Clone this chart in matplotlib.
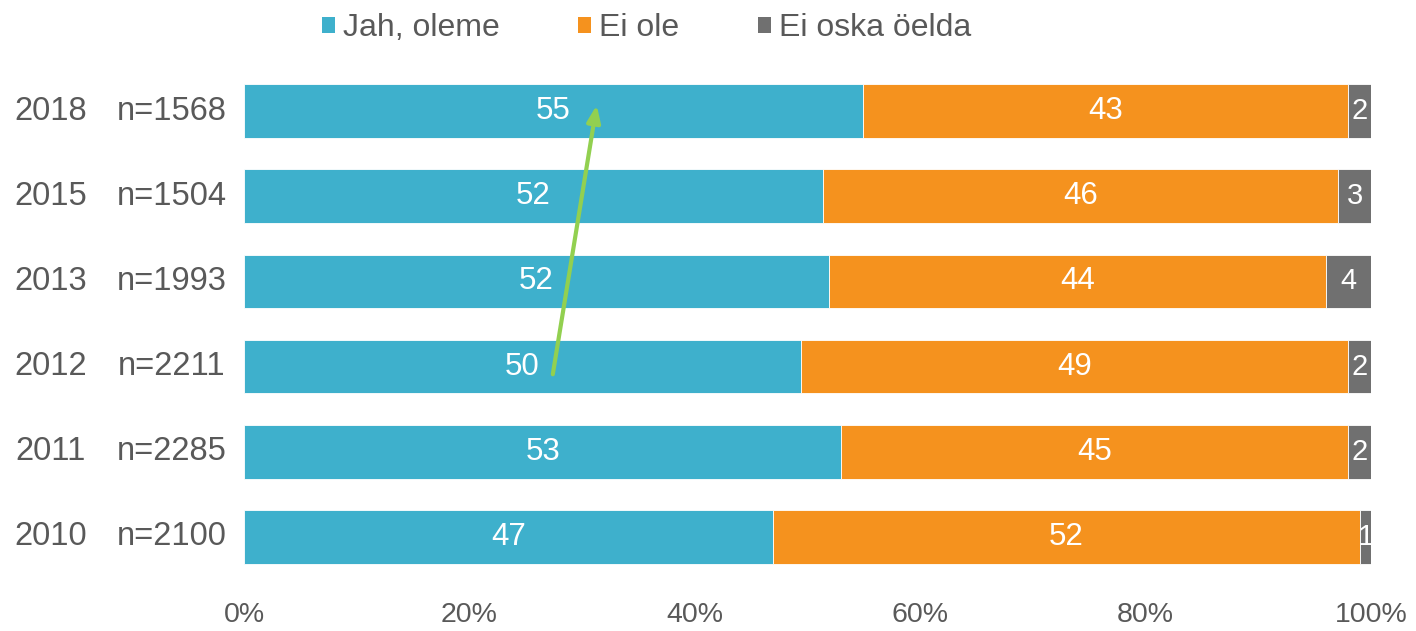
import matplotlib
matplotlib.use("Agg")
from matplotlib import pyplot as plt
from matplotlib.patches import Patch
import numpy as np

# data (bottom to top)
years = ["2010", "2011", "2012", "2013", "2015", "2018"]
sizes = ["n=2100", "n=2285", "n=2211", "n=1993", "n=1504", "n=1568"]
series_names = ["Jah, oleme", "Ei ole", "Ei oska öelda"]
jah = [46.9, 53.0, 49.4, 51.9, 51.4, 54.9]
ei = [52.1, 45.0, 48.6, 44.1, 45.7, 43.1]
ei_tea = [1.0, 2.0, 2.0, 4.0, 2.9, 2.0]
jah_lbl = [47, 53, 50, 52, 52, 55]
ei_lbl = [52, 45, 49, 44, 46, 43]
ei_tea_lbl = [1, 2, 2, 4, 3, 2]
xticks = [0, 20, 40, 60, 80, 100]

colors = ["#3EB0CC", "#F5921E", "#707070"]
txtcol = "#595959"
narrow = ["Liberation Sans Narrow", "Liberation Sans", "DejaVu Sans"]
wide = ["Liberation Sans", "DejaVu Sans"]

fig = plt.figure(figsize=(14.16, 6.31), dpi=100)
ax = fig.add_axes([244/1416, 0.0815, 1127/1416, 0.81])

y = np.arange(len(years))
vals = [jah, ei, ei_tea]
lbls = [jah_lbl, ei_lbl, ei_tea_lbl]
left = np.zeros(len(years))
for s in range(3):
    v = np.array(vals[s])
    ax.barh(y, v, left=left, height=0.63, color=colors[s], edgecolor="white", linewidth=0.6)
    for i in range(len(years)):
        ax.text(left[i] + v[i]/2, y[i], str(lbls[s][i]), ha="center", va="center",
                color="white", fontsize=22.5 if s < 2 else 21, family=narrow if s < 2 else wide)
    left += v

ax.set_xlim(0, 100)
ax.set_ylim(-0.5, len(years) - 0.5)
ax.set_xticks(xticks)
ax.set_xticklabels(["%d%%" % t for t in xticks], fontsize=20.5, color=txtcol, family=wide)
ax.tick_params(axis="x", length=0, pad=16)
ax.set_yticks([])
for sp in ax.spines.values():
    sp.set_visible(False)

# year and sample size labels
for i in range(len(years)):
    ax.text(-17.13, y[i], years[i], ha="center", va="center",
            fontsize=23.5, color=txtcol, family=narrow, clip_on=False)
    ax.text(-6.39, y[i], sizes[i], ha="center", va="center",
            fontsize=23.5, color=txtcol, family=narrow, clip_on=False)

# trend arrow
ax.annotate("", xy=(31.3, 5.07), xytext=(27.4, 1.91),
            arrowprops=dict(arrowstyle="-|>,head_width=0.4,head_length=1.0",
                            color="#92D050", lw=3, shrinkA=0, shrinkB=0))

handles = [Patch(facecolor=c, edgecolor="none") for c in colors]
fig.legend(handles, series_names, loc="center", bbox_to_anchor=(0.4566, 0.955), ncol=3,
           frameon=False, handlelength=0.42, handleheight=0.42, handletextpad=0.25,
           columnspacing=2.45, prop={"family": narrow, "size": 23}, labelcolor=txtcol)

plt.savefig("out.png", dpi=100)
plt.close()
